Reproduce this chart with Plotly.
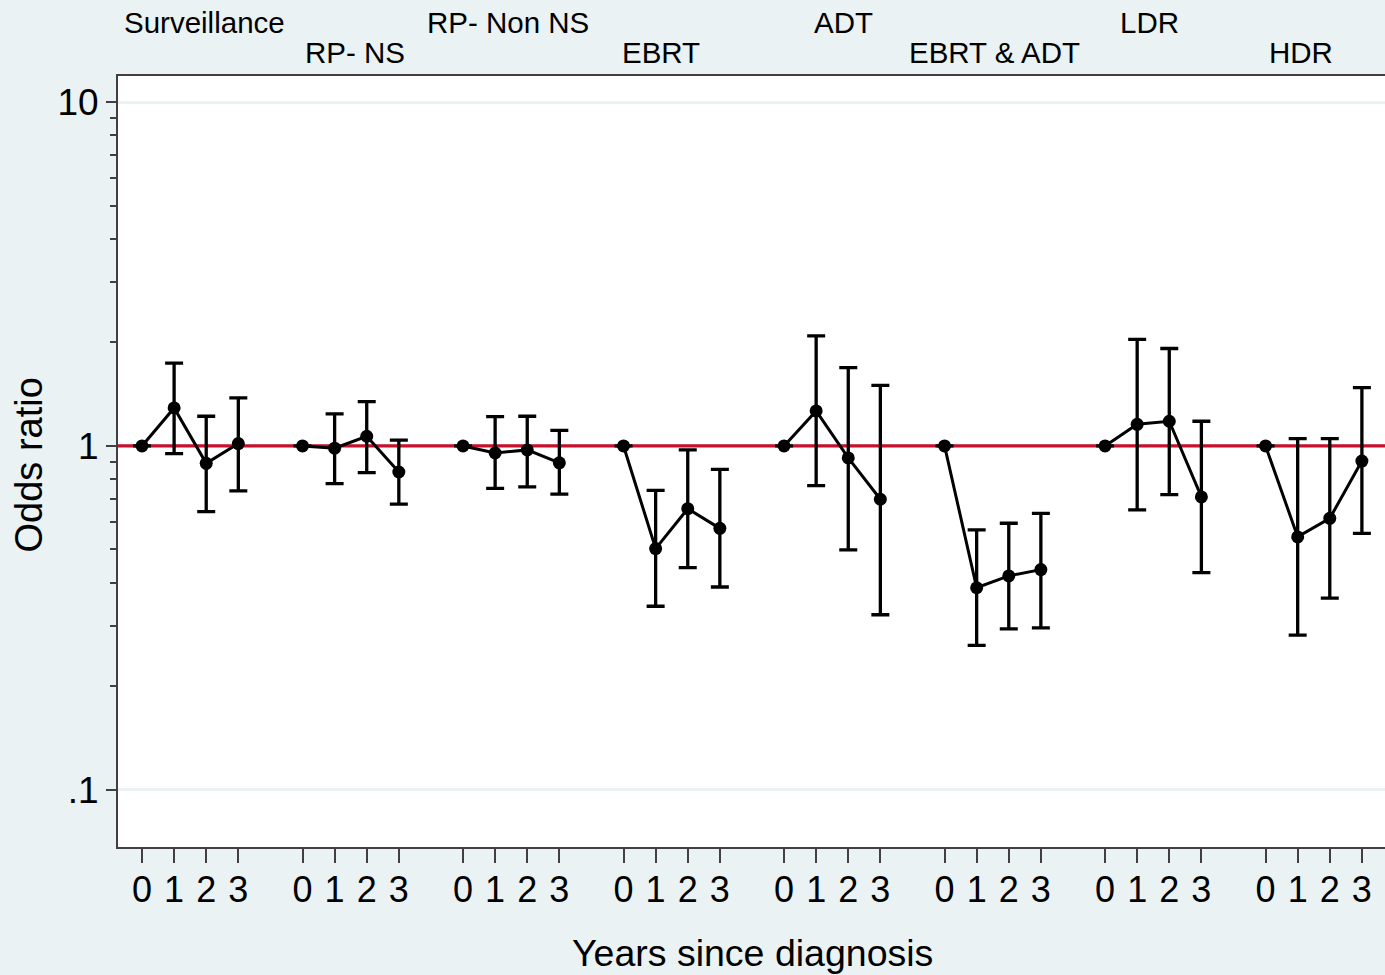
import plotly.graph_objects as go

groups = ["Surveillance", "RP- NS", "RP- Non NS", "EBRT", "ADT", "EBRT & ADT", "LDR", "HDR"]
years = [0, 1, 2, 3]

odds = [
    [1.0, 1.29, 0.89, 1.016],
    [1.0, 0.985, 1.067, 0.84],
    [1.0, 0.954, 0.974, 0.893],
    [1.0, 0.503, 0.657, 0.576],
    [1.0, 1.264, 0.923, 0.70],
    [1.0, 0.387, 0.419, 0.437],
    [1.0, 1.156, 1.18, 0.711],
    [1.0, 0.544, 0.616, 0.904],
]
ci_upper = [
    [1.0, 1.74, 1.22, 1.38],
    [1.0, 1.24, 1.345, 1.04],
    [1.0, 1.217, 1.22, 1.11],
    [1.0, 0.743, 0.974, 0.855],
    [1.0, 2.09, 1.69, 1.50],
    [1.0, 0.570, 0.596, 0.637],
    [1.0, 2.04, 1.92, 1.18],
    [1.0, 1.05, 1.05, 1.477],
]
ci_lower = [
    [1.0, 0.95, 0.644, 0.74],
    [1.0, 0.777, 0.836, 0.677],
    [1.0, 0.753, 0.76, 0.724],
    [1.0, 0.342, 0.443, 0.389],
    [1.0, 0.767, 0.499, 0.323],
    [1.0, 0.263, 0.294, 0.296],
    [1.0, 0.652, 0.722, 0.428],
    [1.0, 0.282, 0.361, 0.557],
]

# label positions (in x units) and row for the group titles
label_x = [1.95, 6.65, 11.4, 16.18, 21.84, 26.57, 31.37, 36.1]
label_row = [0, 1, 0, 1, 0, 1, 0, 1]

y_tickvals = [0.1, 1, 10]
y_ticktext = [".1", "1", "10"]
y_minor = [0.2, 0.3, 0.4, 0.5, 0.6, 0.7, 0.8, 0.9, 2, 3, 4, 5, 6, 7, 8, 9]

GAP = 5
BG = "#EAF2F3"
FONT = "Liberation Sans, Arial, sans-serif"

fig = go.Figure()

x_min, x_max = -0.748, 38.72
fig.add_trace(go.Scatter(x=[x_min, x_max], y=[1, 1], mode="lines",
                         line=dict(color="#C8102E", width=3.3),
                         showlegend=False, hoverinfo="skip"))

tickvals, ticktext = [], []
for g, name in enumerate(groups):
    xs = [GAP * g + t for t in years]
    tickvals += xs
    ticktext += [str(t) for t in years]
    up = [u - o for u, o in zip(ci_upper[g], odds[g])]
    dn = [o - l for o, l in zip(odds[g], ci_lower[g])]
    has_err = [t > 0 for t in years]
    fig.add_trace(go.Scatter(
        x=xs, y=odds[g], mode="lines+markers", name=name,
        line=dict(color="black", width=3),
        marker=dict(color="black", size=13),
        error_y=dict(type="data", symmetric=False,
                     array=[u if h else None for u, h in zip(up, has_err)],
                     arrayminus=[d if h else None for d, h in zip(dn, has_err)],
                     color="black", thickness=3.3, width=9),
        showlegend=False,
    ))

annotations = []
for name, lx, row in zip(groups, label_x, label_row):
    annotations.append(dict(x=lx, xref="x", y=1, yref="paper", yanchor="middle",
                            yshift=54 if row == 0 else 24, text=name, showarrow=False,
                            font=dict(size=29.5, color="black", family=FONT)))
annotations.append(dict(x=0.501, xref="paper", y=0, yref="paper", yanchor="middle",
                        yshift=-106, text="Years since diagnosis", showarrow=False,
                        font=dict(size=37.5, color="black", family=FONT)))
annotations.append(dict(x=0, xref="paper", y=0.5, yref="paper", xanchor="center",
                        yanchor="middle", xshift=-90, yshift=-4, textangle=-90,
                        text="Odds ratio", showarrow=False,
                        font=dict(size=38, color="black", family=FONT)))

fig.update_layout(
    width=1385, height=975,
    margin=dict(l=118, r=0, t=76, b=128),
    paper_bgcolor=BG, plot_bgcolor="white",
    font=dict(family=FONT, color="black"),
    annotations=annotations,
    xaxis=dict(range=[x_min, x_max], tickvals=tickvals, ticktext=ticktext,
               showgrid=False, zeroline=False, showline=True, mirror=True,
               linecolor="#404040", linewidth=2, ticks="outside", ticklen=14,
               tickwidth=1.5, tickcolor="#404040", ticklabelstandoff=-4,
               tickfont=dict(size=36, color="black", family=FONT)),
    yaxis=dict(type="log", range=[-1.166, 1.0756], tickvals=y_tickvals, ticktext=y_ticktext,
               showgrid=True, gridcolor=BG, gridwidth=3, zeroline=False,
               showline=True, linecolor="#404040", linewidth=2,
               ticks="outside", ticklen=10, tickwidth=1.5, tickcolor="#404040",
               tickfont=dict(size=37, color="black", family=FONT),
               minor=dict(tickvals=y_minor, ticks="outside", ticklen=6,
                          tickwidth=1.5, tickcolor="#404040", showgrid=False)),
)

fig.write_html("out.html", config={"displayModeBar": False},
               post_script="document.body.style.margin='0';document.body.style.overflow='hidden';")
